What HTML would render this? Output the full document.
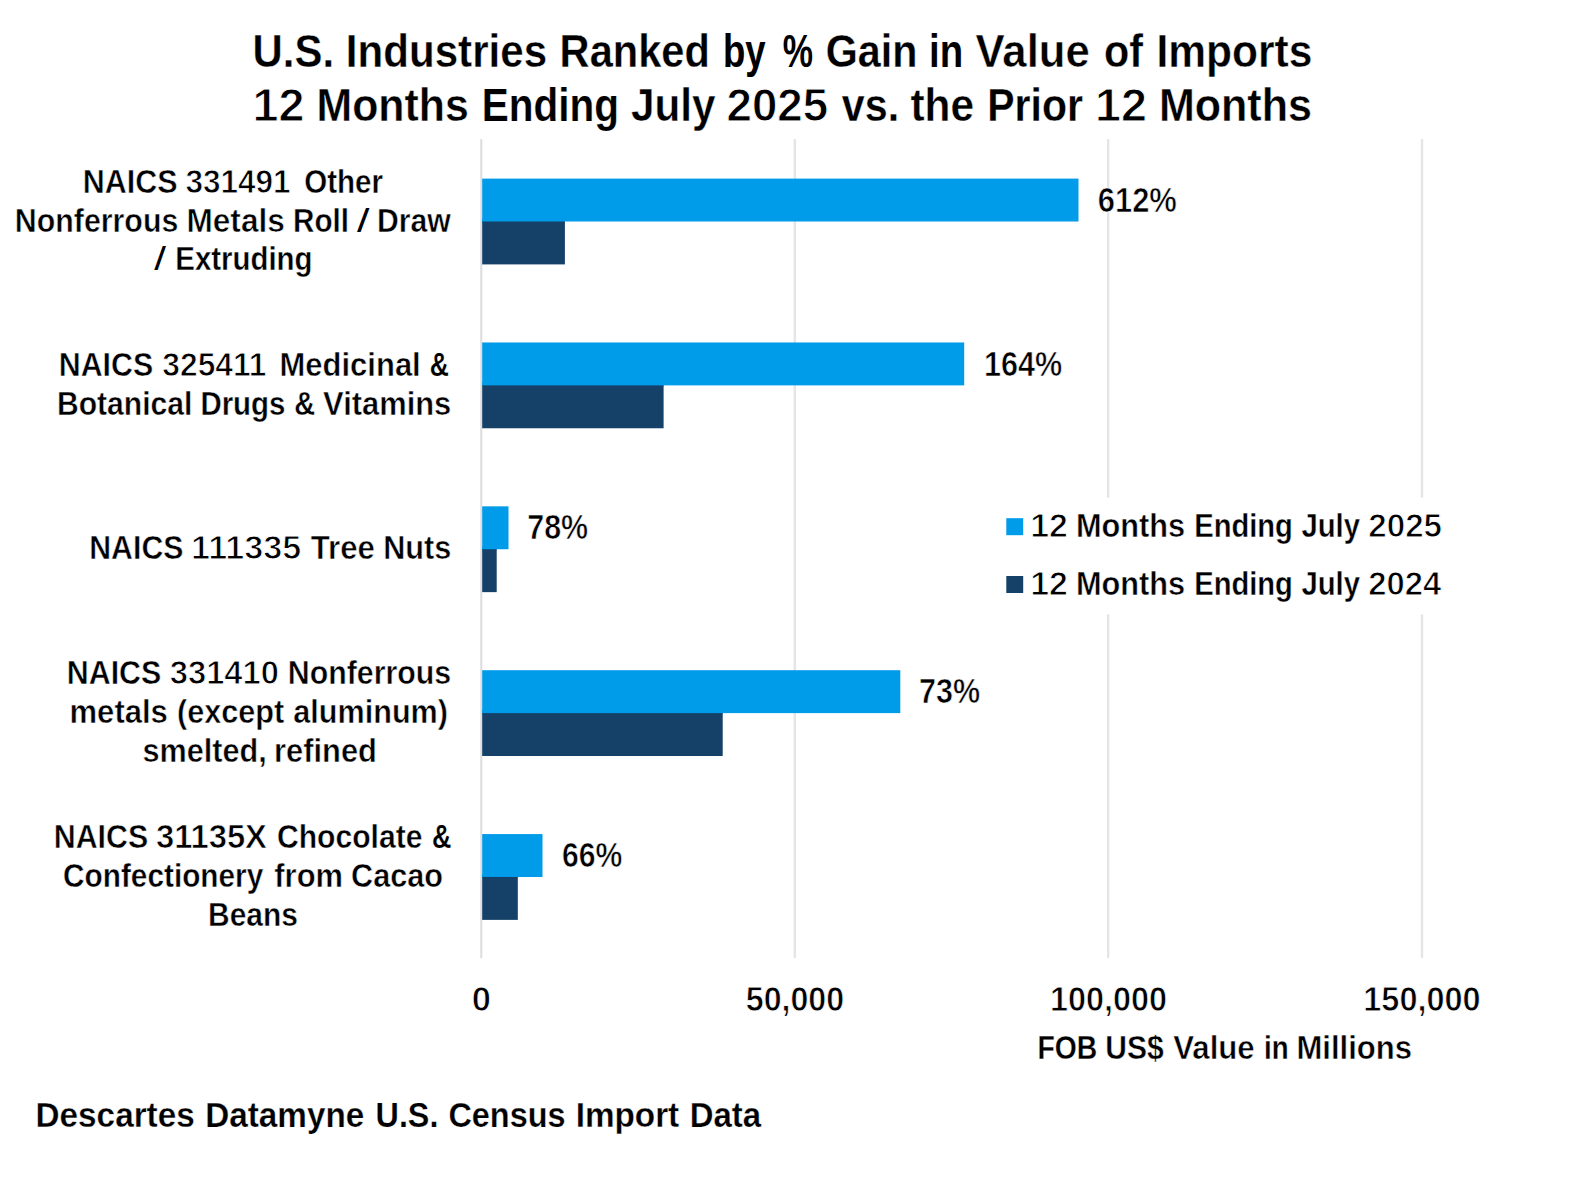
<!DOCTYPE html>
<html lang="en">
<head>
<meta charset="utf-8">
<title>U.S. Industries Ranked by % Gain in Value of Imports</title>
<style>
html,body{margin:0;padding:0;background:#fff}
body{width:1572px;height:1187px;overflow:hidden}
svg{display:block}
svg text{font-family:"Liberation Sans",sans-serif;font-weight:bold;fill:#000;stroke:#fff;white-space:pre}
</style>
</head>
<body>
<svg width="1572" height="1187" viewBox="0 0 1572 1187">
<rect width="1572" height="1187" fill="#fff"/>
<g fill="#e5e5e5">
<rect x="480.3" y="139.1" width="2" height="819.0" fill="#dcdcdc"/>
<rect x="793.6" y="139.1" width="2.4" height="819.0"/>
<rect x="1107.0" y="139.1" width="2.4" height="819.0"/>
<rect x="1420.8" y="139.1" width="2.4" height="819.0"/>
</g>
<rect x="995" y="497.6" width="460" height="116.8" fill="#fff"/>
<rect x="482.2" y="178.60" width="596.3" height="42.9" fill="#009be9"/>
<rect x="482.2" y="218.60" width="82.7" height="4" fill="#009be9"/>
<rect x="482.2" y="221.50" width="82.7" height="42.9" fill="#154067"/>
<rect x="482.2" y="342.47" width="482.0" height="42.9" fill="#009be9"/>
<rect x="482.2" y="382.47" width="181.4" height="4" fill="#009be9"/>
<rect x="482.2" y="385.37" width="181.4" height="42.9" fill="#154067"/>
<rect x="482.2" y="506.34" width="26.3" height="42.9" fill="#009be9"/>
<rect x="482.2" y="546.34" width="14.5" height="4" fill="#009be9"/>
<rect x="482.2" y="549.24" width="14.5" height="42.9" fill="#154067"/>
<rect x="482.2" y="670.21" width="418.1" height="42.9" fill="#009be9"/>
<rect x="482.2" y="710.21" width="240.5" height="4" fill="#009be9"/>
<rect x="482.2" y="713.11" width="240.5" height="42.9" fill="#154067"/>
<rect x="482.2" y="834.08" width="60.3" height="42.9" fill="#009be9"/>
<rect x="482.2" y="874.08" width="35.6" height="4" fill="#009be9"/>
<rect x="482.2" y="876.98" width="35.6" height="42.9" fill="#154067"/>
<rect x="1006.3" y="518.2" width="16.9" height="17" fill="#009be9"/>
<rect x="1006.3" y="576" width="16.9" height="17" fill="#154067"/>
<text y="67.4" font-size="46.6" stroke-width="0.4"><tspan x="252.60" textLength="81.43" lengthAdjust="spacingAndGlyphs" stroke-width="0.33">U.S.</tspan> <tspan x="345.86" textLength="201.20" lengthAdjust="spacingAndGlyphs" stroke-width="0.35">Industries</tspan> <tspan x="559.60" textLength="150.26" lengthAdjust="spacingAndGlyphs" stroke-width="0.31">Ranked</tspan> <tspan x="722.95" textLength="42.65" lengthAdjust="spacingAndGlyphs" stroke="#000" stroke-width="0.09">by</tspan> <tspan x="782.79" textLength="30.28" lengthAdjust="spacingAndGlyphs" stroke="#000" stroke-width="0.00">%</tspan> <tspan x="825.73" textLength="91.58" lengthAdjust="spacingAndGlyphs" stroke-width="0.29">Gain</tspan> <tspan x="929.02" textLength="34.20" lengthAdjust="spacingAndGlyphs" stroke-width="0.09">in</tspan> <tspan x="975.60" textLength="114.18" lengthAdjust="spacingAndGlyphs" stroke-width="0.48">Value</tspan> <tspan x="1103.93" textLength="38.96" lengthAdjust="spacingAndGlyphs" stroke-width="0.30">of</tspan> <tspan x="1156.54" textLength="155.79" lengthAdjust="spacingAndGlyphs">Imports</tspan></text>
<text y="121.4" font-size="46.6" stroke-width="0.4"><tspan x="252.49" textLength="51.94" lengthAdjust="spacingAndGlyphs" stroke-width="1.01">12</tspan> <tspan x="316.51" textLength="152.26" lengthAdjust="spacingAndGlyphs">Months</tspan> <tspan x="481.77" textLength="137.35" lengthAdjust="spacingAndGlyphs" stroke-width="0.22">Ending</tspan> <tspan x="630.99" textLength="84.57" lengthAdjust="spacingAndGlyphs">July</tspan> <tspan x="726.54" textLength="101.48" lengthAdjust="spacingAndGlyphs" stroke-width="0.94">2025</tspan> <tspan x="841.86" textLength="57.24" lengthAdjust="spacingAndGlyphs" stroke-width="0.29">vs.</tspan> <tspan x="910.42" textLength="63.60" lengthAdjust="spacingAndGlyphs">the</tspan> <tspan x="987.24" textLength="95.62" lengthAdjust="spacingAndGlyphs" stroke-width="0.26">Prior</tspan> <tspan x="1095.09" textLength="51.94" lengthAdjust="spacingAndGlyphs" stroke-width="1.01">12</tspan> <tspan x="1158.90" textLength="153.08" lengthAdjust="spacingAndGlyphs">Months</tspan></text>
<text y="192.8" font-size="33.9" stroke-width="0.5"><tspan x="82.75" textLength="94.78" lengthAdjust="spacingAndGlyphs">NAICS</tspan> <tspan x="185.44" textLength="105.11" lengthAdjust="spacingAndGlyphs" stroke-width="0.87">331491</tspan> <tspan x="304.19" textLength="78.77" lengthAdjust="spacingAndGlyphs" stroke-width="0.42">Other</tspan></text>
<text y="231.5" font-size="33.9" stroke-width="0.5"><tspan x="14.86" textLength="163.42" lengthAdjust="spacingAndGlyphs">Nonferrous</tspan> <tspan x="186.47" textLength="98.35" lengthAdjust="spacingAndGlyphs" stroke-width="0.58">Metals</tspan> <tspan x="293.12" textLength="55.90" lengthAdjust="spacingAndGlyphs" stroke-width="0.41">Roll</tspan> <tspan x="357.10" textLength="12.43" lengthAdjust="spacingAndGlyphs" font-weight="normal" stroke="none">/</tspan> <tspan x="376.97" textLength="73.76" lengthAdjust="spacingAndGlyphs" stroke-width="0.46">Draw</tspan></text>
<text y="270.4" font-size="33.9" stroke-width="0.5"><tspan x="154.20" textLength="11.71" lengthAdjust="spacingAndGlyphs" font-weight="normal" stroke="none">/</tspan> <tspan x="175.33" textLength="137.15" lengthAdjust="spacingAndGlyphs" stroke-width="0.39">Extruding</tspan></text>
<text y="375.9" font-size="33.9" stroke-width="0.5"><tspan x="58.76" textLength="94.47" lengthAdjust="spacingAndGlyphs">NAICS</tspan> <tspan x="162.33" textLength="104.16" lengthAdjust="spacingAndGlyphs" stroke-width="0.89">325411</tspan> <tspan x="279.51" textLength="141.24" lengthAdjust="spacingAndGlyphs">Medicinal</tspan> <tspan x="429.63" textLength="19.14" lengthAdjust="spacingAndGlyphs" stroke-width="0.17">&amp;</tspan></text>
<text y="414.9" font-size="33.9" stroke-width="0.5"><tspan x="56.98" textLength="135.38" lengthAdjust="spacingAndGlyphs" stroke-width="0.45">Botanical</tspan> <tspan x="200.43" textLength="85.02" lengthAdjust="spacingAndGlyphs" stroke-width="0.39">Drugs</tspan> <tspan x="294.31" textLength="20.84" lengthAdjust="spacingAndGlyphs" stroke-width="0.34">&amp;</tspan> <tspan x="323.12" textLength="128.19" lengthAdjust="spacingAndGlyphs">Vitamins</tspan></text>
<text y="559.0" font-size="33.9" stroke-width="0.5"><tspan x="89.27" textLength="94.15" lengthAdjust="spacingAndGlyphs">NAICS</tspan> <tspan x="191.13" textLength="110.09" lengthAdjust="spacingAndGlyphs" stroke-width="1.08">111335</tspan> <tspan x="310.71" textLength="64.14" lengthAdjust="spacingAndGlyphs" stroke-width="0.54">Tree</tspan> <tspan x="383.24" textLength="68.10" lengthAdjust="spacingAndGlyphs">Nuts</tspan></text>
<text y="684.0" font-size="33.9" stroke-width="0.5"><tspan x="66.76" textLength="94.57" lengthAdjust="spacingAndGlyphs">NAICS</tspan> <tspan x="169.75" textLength="109.23" lengthAdjust="spacingAndGlyphs" stroke-width="0.97">331410</tspan> <tspan x="287.76" textLength="163.42" lengthAdjust="spacingAndGlyphs">Nonferrous</tspan></text>
<text y="723.0" font-size="33.9" stroke-width="0.5"><tspan x="69.51" textLength="98.39" lengthAdjust="spacingAndGlyphs">metals</tspan> <tspan x="176.99" textLength="107.32" lengthAdjust="spacingAndGlyphs">(except</tspan> <tspan x="293.37" textLength="154.59" lengthAdjust="spacingAndGlyphs">aluminum)</tspan></text>
<text y="762.0" font-size="33.9" stroke-width="0.5"><tspan x="142.54" textLength="124.32" lengthAdjust="spacingAndGlyphs">smelted,</tspan> <tspan x="274.12" textLength="102.85" lengthAdjust="spacingAndGlyphs">refined</tspan></text>
<text y="848.3" font-size="33.9" stroke-width="0.5"><tspan x="53.76" textLength="94.47" lengthAdjust="spacingAndGlyphs">NAICS</tspan> <tspan x="155.99" textLength="110.96" lengthAdjust="spacingAndGlyphs" stroke-width="0.67">31135X</tspan> <tspan x="276.95" textLength="145.53" lengthAdjust="spacingAndGlyphs" stroke-width="0.45">Chocolate</tspan> <tspan x="431.91" textLength="19.36" lengthAdjust="spacingAndGlyphs" stroke-width="0.19">&amp;</tspan></text>
<text y="887.3" font-size="33.9" stroke-width="0.5"><tspan x="63.08" textLength="200.15" lengthAdjust="spacingAndGlyphs" stroke-width="0.42">Confectionery</tspan> <tspan x="274.32" textLength="68.69" lengthAdjust="spacingAndGlyphs">from</tspan> <tspan x="351.12" textLength="91.85" lengthAdjust="spacingAndGlyphs">Cacao</tspan></text>
<text y="926.3" font-size="33.9" stroke-width="0.5"><tspan x="208.09" textLength="89.84" lengthAdjust="spacingAndGlyphs" stroke-width="0.44">Beans</tspan></text>
<text y="211.7" font-size="34.747499999999995" stroke-width="0.5"><tspan x="1097.74" textLength="79.16" lengthAdjust="spacingAndGlyphs" stroke-width="0.67">612%</tspan></text>
<text y="375.6" font-size="34.747499999999995" stroke-width="0.5"><tspan x="983.90" textLength="78.18" lengthAdjust="spacingAndGlyphs" stroke-width="0.64">164%</tspan></text>
<text y="539.4" font-size="34.747499999999995" stroke-width="0.5"><tspan x="527.27" textLength="60.85" lengthAdjust="spacingAndGlyphs" stroke-width="0.64">78%</tspan></text>
<text y="703.3" font-size="34.747499999999995" stroke-width="0.5"><tspan x="918.96" textLength="61.06" lengthAdjust="spacingAndGlyphs" stroke-width="0.64">73%</tspan></text>
<text y="867.1" font-size="34.747499999999995" stroke-width="0.5"><tspan x="562.10" textLength="60.31" lengthAdjust="spacingAndGlyphs" stroke-width="0.61">66%</tspan></text>
<text y="1010.7" font-size="34.747499999999995" stroke-width="0.5"><tspan x="471.76" textLength="19.27" lengthAdjust="spacingAndGlyphs" stroke-width="0.95">0</tspan></text>
<text y="1010.7" font-size="34.747499999999995" stroke-width="0.5"><tspan x="745.78" textLength="98.34" lengthAdjust="spacingAndGlyphs" stroke-width="0.78">50,000</tspan></text>
<text y="1010.7" font-size="34.747499999999995" stroke-width="0.5"><tspan x="1049.97" textLength="117.02" lengthAdjust="spacingAndGlyphs" stroke-width="0.80">100,000</tspan></text>
<text y="1010.7" font-size="34.747499999999995" stroke-width="0.5"><tspan x="1363.26" textLength="117.43" lengthAdjust="spacingAndGlyphs" stroke-width="0.81">150,000</tspan></text>
<text y="1058.8" font-size="33.9" stroke-width="0.5"><tspan x="1037.51" textLength="59.68" lengthAdjust="spacingAndGlyphs" stroke-width="0.29">FOB</tspan> <tspan x="1105.31" textLength="58.40" lengthAdjust="spacingAndGlyphs" stroke-width="0.44">US$</tspan> <tspan x="1173.21" textLength="81.53" lengthAdjust="spacingAndGlyphs" stroke-width="0.55">Value</tspan> <tspan x="1264.06" textLength="24.57" lengthAdjust="spacingAndGlyphs" stroke-width="0.29">in</tspan> <tspan x="1296.51" textLength="115.51" lengthAdjust="spacingAndGlyphs">Millions</tspan></text>
<text y="1127.4" font-size="35.3" stroke-width="0.25"><tspan x="35.54" textLength="159.19" lengthAdjust="spacingAndGlyphs" stroke-width="0.29">Descartes</tspan> <tspan x="205.24" textLength="159.04" lengthAdjust="spacingAndGlyphs">Datamyne</tspan> <tspan x="375.54" textLength="62.89" lengthAdjust="spacingAndGlyphs" stroke-width="0.21">U.S.</tspan> <tspan x="448.42" textLength="117.07" lengthAdjust="spacingAndGlyphs">Census</tspan> <tspan x="575.64" textLength="103.59" lengthAdjust="spacingAndGlyphs" stroke-width="0.29">Import</tspan> <tspan x="689.77" textLength="71.35" lengthAdjust="spacingAndGlyphs">Data</tspan></text>
<text y="537.1" font-size="33.9" stroke-width="0.5"><tspan x="1030.25" textLength="37.70" lengthAdjust="spacingAndGlyphs" stroke-width="1.03">12</tspan> <tspan x="1076.04" textLength="109.14" lengthAdjust="spacingAndGlyphs">Months</tspan> <tspan x="1194.25" textLength="98.66" lengthAdjust="spacingAndGlyphs" stroke-width="0.37">Ending</tspan> <tspan x="1301.45" textLength="58.55" lengthAdjust="spacingAndGlyphs" stroke-width="0.39">July</tspan> <tspan x="1368.29" textLength="73.79" lengthAdjust="spacingAndGlyphs" stroke-width="1.00">2025</tspan></text>
<text y="594.8" font-size="33.9" stroke-width="0.5"><tspan x="1030.25" textLength="37.70" lengthAdjust="spacingAndGlyphs" stroke-width="1.03">12</tspan> <tspan x="1076.04" textLength="109.14" lengthAdjust="spacingAndGlyphs">Months</tspan> <tspan x="1194.25" textLength="98.66" lengthAdjust="spacingAndGlyphs" stroke-width="0.37">Ending</tspan> <tspan x="1301.45" textLength="58.55" lengthAdjust="spacingAndGlyphs" stroke-width="0.39">July</tspan> <tspan x="1368.31" textLength="73.03" lengthAdjust="spacingAndGlyphs" stroke-width="0.97">2024</tspan></text>
</svg>
</body>
</html>
